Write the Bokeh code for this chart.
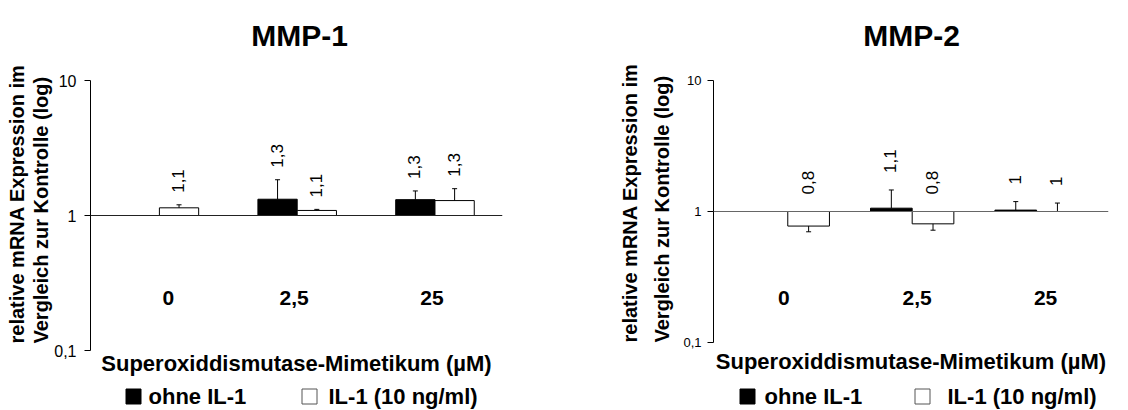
import math
from bokeh.plotting import figure
from bokeh.models import Range1d, FixedTicker, Span, ColumnDataSource, Title
from bokeh.layouts import row, column
from bokeh.embed import file_html
from bokeh.resources import INLINE
from bokeh.core.properties import value

# ---------------- data ----------------
doses = ["0", "2,5", "25"]

mmp1_ohne = [None, 1.32, 1.31]
mmp1_ohne_err = [None, 1.84, 1.52]
mmp1_ohne_lbl = [None, "1,3", "1,3"]
mmp1_il1 = [1.14, 1.09, 1.29]
mmp1_il1_err = [1.20, 1.11, 1.58]
mmp1_il1_lbl = ["1,1", "1,1", "1,3"]

mmp2_ohne = [None, 1.06, 1.025]
mmp2_ohne_err = [None, 1.46, 1.19]
mmp2_ohne_lbl = [None, "1,1", "1"]
mmp2_il1 = [0.774, 0.805, 1.0]
mmp2_il1_err = [0.70, 0.72, 1.16]
mmp2_il1_lbl = ["0,8", "0,8", "1"]

y_ticks = [0.1, 1, 10]
y_tick_labels = ["0,1", "1", "10"]
titles = ["MMP-1", "MMP-2"]
y_title = ["relative mRNA Expression im", "Vergleich zur Kontrolle (log)"]
x_title = "Superoxiddismutase-Mimetikum (µM)"
legend_labels = ["ohne IL-1", "IL-1 (10 ng/ml)"]
legend_fills = ["black", "white"]

FONT = "Liberation Sans"
W = 564
H_TITLE = 60
H_LEG = 26
H_CHART = 410 - H_TITLE - H_LEG


def strip_fig(g, h):
    # helper strip whose frame is aligned with the chart frame; x data = pixel column
    q = figure(width=W, height=h, output_backend="svg", toolbar_location=None,
               x_range=Range1d(g["left"], g["right"]), y_range=Range1d(0, h),
               x_axis_location=None, y_axis_location=None,
               min_border_left=g["left"], min_border_right=W - g["right"],
               min_border_top=0, min_border_bottom=0,
               background_fill_color="white", border_fill_color="white")
    q.outline_line_color = None
    q.grid.visible = False
    return q


def make_title(title, g):
    q = strip_fig(g, H_TITLE)
    q.text(x=[g["title_x"]], y=[H_TITLE - g["title_y"]], text=[title], text_align="center",
           text_baseline="middle", text_font=value(FONT), text_font_size="30px",
           text_font_style="bold", text_color="black")
    return q


def make_chart(ohne, ohne_err, ohne_lbl, il1, il1_err, il1_lbl, g):
    left, right, top, bottom = g["left"], g["right"], g["top"], g["bottom"]
    x0, x1 = g["x0"], g["x1"]

    def Y(py):
        return 10 ** (1 - 2 * (py - top) / (bottom - top))

    p = figure(width=W, height=H_CHART, output_backend="svg", toolbar_location=None,
               x_range=Range1d(x0, x1), y_range=Range1d(0.1, 10),
               y_axis_type="log", x_axis_location=None,
               min_border_left=left, min_border_right=W - right,
               min_border_top=top - H_TITLE, min_border_bottom=H_TITLE + H_CHART - bottom,
               background_fill_color="white", border_fill_color="white")
    p.outline_line_color = None
    p.grid.visible = False

    ax = p.yaxis[0]
    ax.ticker = FixedTicker(ticks=y_ticks)
    ax.major_label_overrides = {t: l for t, l in zip(y_ticks, y_tick_labels)}
    ax.major_tick_out = 6
    ax.major_tick_in = 0
    ax.minor_tick_out = 0
    ax.minor_tick_in = 0
    ax.axis_line_color = "black"
    ax.major_tick_line_color = "black"
    ax.major_label_text_font = FONT
    ax.major_label_text_font_size = g["tick_fs"]
    ax.major_label_text_color = "black"
    ax.major_label_standoff = g["standoff"]

    for t, so in [(y_title[1], g["yt_standoff"][1]), (y_title[0], g["yt_standoff"][0])]:
        p.add_layout(Title(text=t, align="left", offset=g["yt_offset"], standoff=so,
                           text_font=FONT, text_font_size="20px", text_font_style="bold",
                           text_color="black"), "left")

    p.add_layout(Title(text=x_title, align="center", standoff=g["xt_standoff"],
                       text_font=FONT, text_font_size="22px", text_font_style="bold",
                       text_color="black"), "below")

    p.add_layout(Span(location=1, dimension="width", line_color=g["base_color"], line_width=1))

    idx = list(range(len(doses)))
    bw = g["bw"]
    for vals, errs, lbls, shift, fill in [(ohne, ohne_err, ohne_lbl, -0.5, legend_fills[0]),
                                          (il1, il1_err, il1_lbl, 0.5, legend_fills[1])]:
        xs = [i + shift * bw for i, v in zip(idx, vals) if v is not None]
        vs = [v for v in vals if v is not None]
        es = [e for v, e in zip(vals, errs) if v is not None]
        ls = [l for v, l in zip(vals, lbls) if v is not None]
        src = ColumnDataSource(dict(x=xs, top=vs, bottom=[1] * len(vs), err=es, lbl=ls,
                                    anchor=[max(v, e, 1.0) for v, e in zip(vs, es)]))
        p.vbar(x="x", width=bw, top="top", bottom="bottom", source=src,
               fill_color=fill, line_color="black", line_width=1)
        p.segment(x0="x", y0="top", x1="x", y1="err", source=src, line_color="black", line_width=1)
        p.dash(x="x", y="err", size=5, angle=0, source=src, line_color="black", line_width=1)
        p.text(x="x", y="anchor", text="lbl", source=src, angle=math.pi / 2,
               text_align="left", text_baseline="middle", x_offset=-1, y_offset=g["lbl_off"],
               text_font=value(FONT), text_font_size="17px", text_color="black")

    cat_src = ColumnDataSource(dict(x=idx, y=[Y(g["cat_y"])] * len(idx), text=doses,
                                    dx=g["cat_dx"]))
    p.text(x="x", y="y", text="text", x_offset="dx", source=cat_src, text_align="center",
           text_baseline="middle", text_font=value(FONT), text_font_size="21px",
           text_font_style="bold", text_color="black")
    return p


def make_legend(g):
    q = strip_fig(g, H_LEG)
    cy = H_LEG - g["leg_y"]
    q.rect(x=g["leg_sq"], y=[cy] * 2, width=15, height=15, fill_color=legend_fills,
           line_color=["black", "#555555"], line_width=1)
    q.text(x=g["leg_tx"], y=[cy] * 2, text=legend_labels, text_align="left",
           text_baseline="middle", text_font=value(FONT), text_font_size="22px",
           text_font_style="bold", text_color="black")
    return q


g1 = dict(left=90, right=502, top=80, bottom=350, x0=-0.5, x1=2.49, bw=0.285,
          tick_fs="16px", standoff=8, base_color="#222222", lbl_off=-12,
          cat_y=297, cat_dx=[9, -3, -3], title_x=299, title_y=35,
          yt_standoff=[0, 0], yt_offset=7, xt_standoff=-4,
          leg_y=12, leg_sq=[133, 309], leg_tx=[148, 328])
g2 = dict(left=149, right=544, top=80, bottom=342, x0=-0.597, x1=2.578, bw=0.335,
          tick_fs="13px", standoff=6, base_color="#666666", lbl_off=-17,
          cat_y=297, cat_dx=[-4, 5, 9], title_x=347, title_y=35,
          yt_standoff=[0, 16], yt_offset=0, xt_standoff=8,
          leg_y=12, leg_sq=[183, 358], leg_tx=[200, 383])

cols = []
for t, data, g in [(titles[0], (mmp1_ohne, mmp1_ohne_err, mmp1_ohne_lbl, mmp1_il1, mmp1_il1_err, mmp1_il1_lbl), g1),
                   (titles[1], (mmp2_ohne, mmp2_ohne_err, mmp2_ohne_lbl, mmp2_il1, mmp2_il1_err, mmp2_il1_lbl), g2)]:
    cols.append(column(make_title(t, g), make_chart(*data, g), make_legend(g)))

layout = row(*cols)
open("out.html", "w").write(file_html(layout, INLINE))
